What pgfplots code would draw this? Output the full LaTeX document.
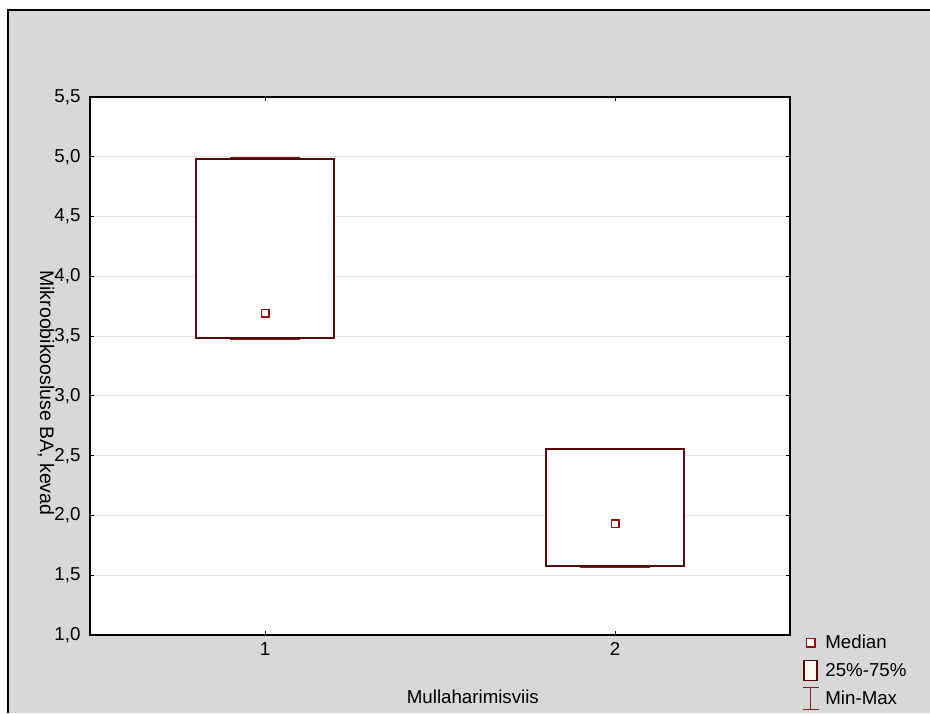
\documentclass[border=0pt]{standalone}
\usepackage{fontspec}
\setmainfont{Liberation Sans}
\usepackage{pgfplots}
\pgfplotsset{compat=1.18}
\usepgfplotslibrary{statistics}
\definecolor{bg}{RGB}{216,216,216}
\definecolor{boxc}{RGB}{85,10,10}
\definecolor{capc}{RGB}{128,30,30}
\definecolor{medc}{RGB}{150,15,15}
\definecolor{ivory}{RGB}{255,250,240}
\definecolor{gridc}{RGB}{228,228,228}
\newcommand{\chartfont}{\fontsize{18.7}{21}\selectfont}
\begin{document}
\begin{tikzpicture}[x=1pt,y=1pt]
\useasboundingbox (0,0) rectangle (930,713);
\fill[white] (0,0) rectangle (930,713);
\fill[bg] (8,0) rectangle (930,703);
\draw[black, line width=2pt] (8.3,0) -- (8.3,703) -- (930,703);
\begin{axis}[
  at={(90pt,78pt)}, anchor=south west,
  width=700pt, height=538pt, scale only axis,
  xmin=0.5, xmax=2.5, ymin=1, ymax=5.5,
  xtick={1,2}, xticklabels={1,2},
  ytick={1,1.5,2,2.5,3,3.5,4,4.5,5,5.5},
  tick align=inside, major tick length=4pt,
  tick style={black, line width=0.8pt},
  ymajorgrids, major grid style={gridc, line width=1pt},
  axis line style={black, line width=1.5pt},
  axis background/.style={fill=white},
  /pgf/number format/.cd, fixed, fixed zerofill, precision=1, use comma, assume math mode=true,
  /pgfplots/.cd,
  ticklabel style={font=\chartfont},
  xticklabel style={yshift=-4pt},
  yticklabel style={xshift=-6pt},
  xlabel={Mullaharimisviis},
  xlabel style={at={(rel axis cs:0.547,-0.115)}, anchor=center, font=\chartfont},
  ylabel={Mikroobikoosluse BA, kevad},
  ylabel style={at={(rel axis cs:-0.063,0.45)}, anchor=center, rotate=180, font=\fontsize{19.5}{22}\selectfont},
  legend style={at={(rel axis cs:1.017,0.006)}, anchor=north west, draw=none, fill=none,
    font=\chartfont, row sep=5.5pt, column sep=4pt, inner sep=0pt, outer sep=0pt,
    nodes={inner sep=2pt}},
  legend cell align=left,
  boxplot/draw direction=y,
]
\addplot[forget plot, boxplot prepared={draw position=1, lower whisker=3.475, lower quartile=3.485, median=3.69, upper quartile=4.98, upper whisker=4.995, box extend=0.394, whisker extend=0.2,
  every box/.style={draw=boxc, line width=1.5pt, fill=white},
  every whisker/.style={draw=capc, line width=1.5pt},
  every median/.style={draw=none}}] coordinates {};
\addplot[forget plot, boxplot prepared={draw position=2, lower whisker=1.564, lower quartile=1.577, median=1.93, upper quartile=2.557, upper whisker=2.562, box extend=0.394, whisker extend=0.2,
  every box/.style={draw=boxc, line width=1.5pt, fill=white},
  every whisker/.style={draw=capc, line width=1.5pt},
  every median/.style={draw=none}}] coordinates {};
\addplot[only marks, mark=square, mark size=3.8pt, mark options={draw=medc, line width=1.4pt, fill=white},
  legend image code/.code={\path[draw=none, fill=none] (0,-11pt) rectangle (16pt,11pt); \draw[medc, line width=1.4pt, fill=white] (3.8pt,-4.2pt) rectangle (12.2pt,4.2pt);}]
  coordinates {(1,3.69) (2,1.93)};
\addlegendentry{Median}
\addlegendimage{legend image code/.code={\path[draw=none, fill=none] (0,-11pt) rectangle (16pt,11pt); \draw[boxc, line width=1.5pt, fill=ivory] (1.5pt,-10pt) rectangle (14.5pt,10pt);}}
\addlegendentry{25\%-75\%}
\addlegendimage{legend image code/.code={\path[draw=none, fill=none] (0,-11pt) rectangle (16pt,11pt); \draw[capc, line width=1.5pt] (0pt,-11pt) -- (16pt,-11pt) (8pt,-11pt) -- (8pt,11pt) (0pt,11pt) -- (16pt,11pt);}}
\addlegendentry{Min-Max}
\end{axis}
\end{tikzpicture}
\end{document}
